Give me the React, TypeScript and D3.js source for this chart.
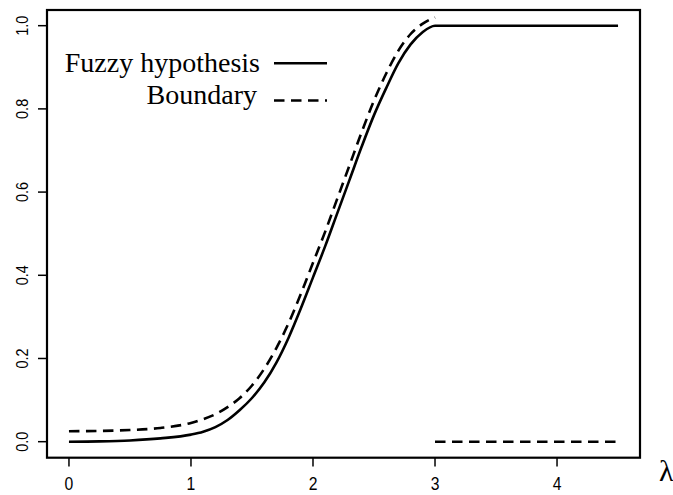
import React from "react";
import * as d3 from "d3";

const lambdaSolid = [0, 0.25, 0.5, 0.75, 1.0, 1.1, 1.2, 1.3, 1.4, 1.5, 1.6, 1.7, 1.8, 1.9, 2.0, 2.1, 2.2, 2.3, 2.4, 2.5, 2.6, 2.7, 2.8, 2.9, 3.0, 4.5];
const fuzzyValues = [0, 0.0008, 0.003, 0.008, 0.017, 0.024, 0.035, 0.052, 0.076, 0.105, 0.142, 0.19, 0.25, 0.32, 0.395, 0.47, 0.55, 0.63, 0.71, 0.785, 0.85, 0.91, 0.955, 0.985, 1.0, 1.0];

const lambdaBoundary = [0, 0.5, 0.75, 1.0, 1.1, 1.2, 1.3, 1.4, 1.5, 1.6, 1.7, 1.8, 1.9, 2.0, 2.1, 2.2, 2.3, 2.4, 2.5, 2.6, 2.7, 2.8, 2.9, 3.0];
const boundaryValues = [0.025, 0.028, 0.033, 0.045, 0.054, 0.066, 0.083, 0.105, 0.135, 0.175, 0.225, 0.285, 0.355, 0.43, 0.505, 0.585, 0.665, 0.745, 0.82, 0.885, 0.94, 0.98, 1.005, 1.02];

const lambdaBoundaryLow = [3.0, 4.5];
const boundaryLowValues = [0, 0];

const xTicks = [0, 1, 2, 3, 4];
const yTicks = [0, 0.2, 0.4, 0.6, 0.8, 1.0];
const legendLabels = ["Fuzzy hypothesis", "Boundary"];

const W = 673;
const H = 495;

export default function App() {
  const x = d3.scaleLinear().domain([-0.18, 4.68]).range([47, 640]);
  const y = d3.scaleLinear().domain([-0.0385, 1.0377]).range([457.7, 10]);

  const line = d3
    .line<[number, number]>()
    .x((d) => x(d[0]))
    .y((d) => y(d[1]))
    .curve(d3.curveMonotoneX);

  const solidPts: [number, number][] = lambdaSolid.map((l, i) => [l, fuzzyValues[i]]);
  const dashPts: [number, number][] = lambdaBoundary.map((l, i) => [l, boundaryValues[i]]);
  const lowPts: [number, number][] = lambdaBoundaryLow.map((l, i) => [l, boundaryLowValues[i]]);

  const dash = "10.5,6.5";
  const sans = "'Liberation Sans', Arial, Helvetica, sans-serif";
  const serif = "'Liberation Serif', 'Times New Roman', serif";

  return (
    <svg
      width={W}
      height={H}
      style={{ position: "absolute", left: 0, top: 0, background: "#fff" }}
    >
      <rect x={0} y={0} width={W} height={H} fill="#fff" />
      {/* curves */}
      <path d={line(solidPts) || ""} fill="none" stroke="#000" strokeWidth={2.6} />
      <path d={line(dashPts) || ""} fill="none" stroke="#000" strokeWidth={2.6} strokeDasharray={dash} />
      <path d={line(lowPts) || ""} fill="none" stroke="#000" strokeWidth={2.6} strokeDasharray={dash} />

      {/* box */}
      <rect
        x={x(-0.18)}
        y={y(1.0377)}
        width={x(4.68) - x(-0.18)}
        height={y(-0.0385) - y(1.0377)}
        fill="none"
        stroke="#000"
        strokeWidth={2.2}
      />

      {/* x axis ticks */}
      {xTicks.map((t) => (
        <g key={"x" + t}>
          <line x1={x(t)} x2={x(t)} y1={457.7} y2={466.5} stroke="#000" strokeWidth={1.5} />
          <text
            transform={`translate(${x(t)},490) scale(0.85,1)`}
            textAnchor="middle"
            fontFamily={sans}
            fontSize={18.5}
            fill="#000"
          >
            {t}
          </text>
        </g>
      ))}

      {/* y axis ticks */}
      {yTicks.map((t) => (
        <g key={"y" + t}>
          <line x1={38} x2={47} y1={y(t)} y2={y(t)} stroke="#000" strokeWidth={1.5} />
          <text
            transform={`translate(27.5,${y(t)}) rotate(-90) scale(0.85,1)`}
            textAnchor="middle"
            fontFamily={sans}
            fontSize={17}
            fill="#000"
          >
            {t.toFixed(1)}
          </text>
        </g>
      ))}

      {/* axis label */}
      <text x={659} y={481} fontFamily={serif} fontSize={30} fill="#000">
        λ
      </text>

      {/* legend */}
      <text x={260} y={72} textAnchor="end" fontFamily={serif} fontSize={28} fill="#000">
        {legendLabels[0]}
      </text>
      <text x={257} y={103.5} textAnchor="end" fontFamily={serif} fontSize={28} fill="#000">
        {legendLabels[1]}
      </text>
      <line x1={274} x2={327} y1={63.3} y2={63.3} stroke="#000" strokeWidth={2.6} />
      <line x1={274} x2={327} y1={100.5} y2={100.5} stroke="#000" strokeWidth={2.6} strokeDasharray={dash} />
    </svg>
  );
}
